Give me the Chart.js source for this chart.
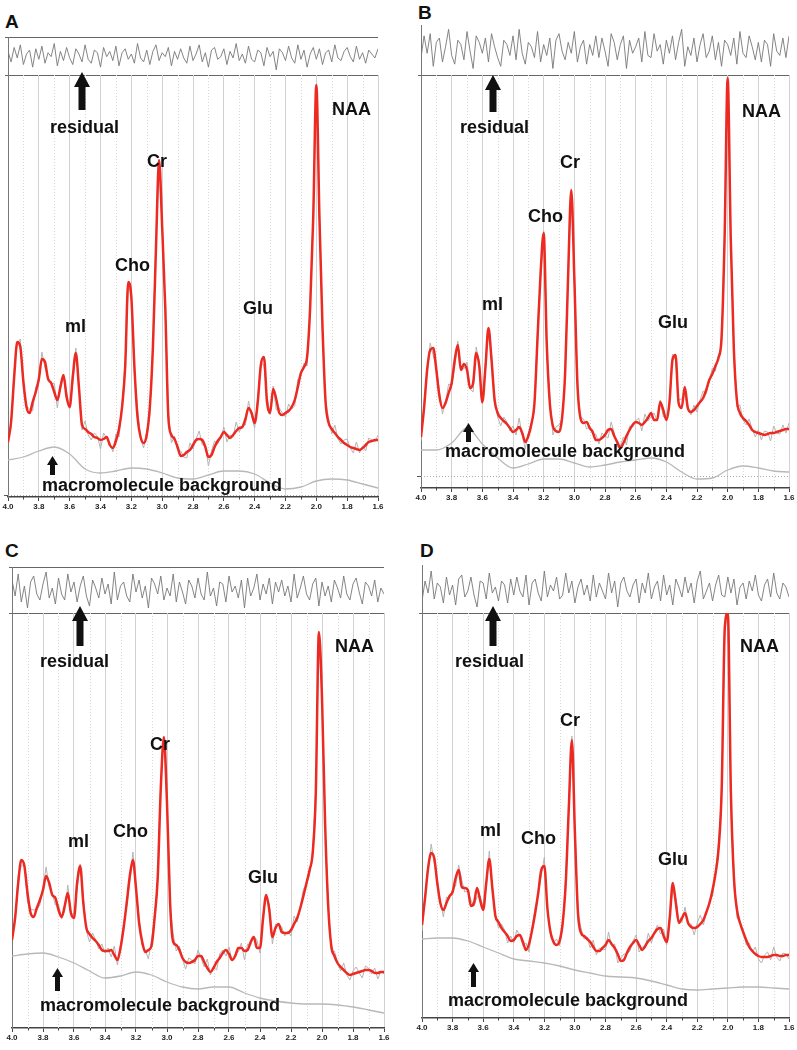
<!DOCTYPE html>
<html><head><meta charset="utf-8">
<script src="https://cdn.jsdelivr.net/npm/chart.js@4.4.1/dist/chart.umd.min.js"></script>
<style>
html,body{margin:0;padding:0;background:#fff;}
#fig{position:relative;width:797px;height:1050px;overflow:hidden;font-family:"Liberation Sans",Arial,sans-serif;}
canvas{position:absolute;}
.lbl{position:absolute;font-weight:bold;font-size:18px;line-height:18px;color:#111;white-space:nowrap;}
.pl{position:absolute;font-weight:bold;font-size:19px;line-height:19px;color:#111;}
.box{position:absolute;box-sizing:border-box;}
svg.arr{position:absolute;overflow:visible;}
</style></head><body><div id="fig"></div>
<script>
// ---- chemical-shift grids (ppm) ----
const ppmGrid = Array.from({length:121}, (_, i) => +(4.0 - i * 0.02).toFixed(2));
const ppmBg = Array.from({length:25}, (_, i) => +(4.0 - i * 0.1).toFixed(1));
const majorTicks = [4.0,3.8,3.6,3.4,3.2,3.0,2.8,2.6,2.4,2.2,2.0,1.8,1.6];
const minorTicks = [3.9,3.7,3.5,3.3,3.1,2.9,2.7,2.5,2.3,2.1,1.9,1.7];

// ---- LCModel fit (red), 4.00 -> 1.60 ppm step 0.02 ----
const fitA = [55,75,120,155,150,115,90,84,95,105,
  118,138,135,118,114,105,97,110,122,100,
  90,120,144,110,72,68,65,63,60,59,
  57,58,60,52,49,56,68,90,130,215,
  200,130,80,60,54,62,90,150,250,337,
  270,190,80,62,58,50,41,42,45,47,
  52,57,58,57,50,40,42,50,56,60,
  65,62,59,62,66,69,70,78,89,84,
  74,95,132,140,95,84,108,98,84,82,
  84,86,90,97,110,124,130,140,190,280,
  412,280,170,95,74,68,64,60,57,54,
  52,50,49,48,47,49,52,55,56,57,
  57];
const fitB = [51,80,118,138,140,118,92,80,85,95,
  105,128,143,118,124,118,100,105,135,122,
  86,120,160,128,88,75,70,67,64,60,
  56,58,61,55,46,52,64,85,150,215,
  255,145,85,62,57,56,70,115,215,298,
  210,105,70,65,66,60,56,48,48,50,
  53,58,59,52,46,40,45,52,58,63,
  66,65,63,66,70,75,68,68,86,78,
  68,85,128,133,85,80,101,80,76,78,
  82,86,90,98,108,114,122,130,150,250,
  410,250,140,88,75,70,67,63,58,56,
  55,54,53,54,55,55,56,57,58,59,
  59];
const fitC = [88,110,145,168,162,135,115,111,120,128,
  138,152,145,133,130,118,111,122,135,115,
  110,145,162,125,100,94,90,87,83,78,
  77,77,78,73,68,80,100,125,152,168,
  140,105,86,76,78,82,110,150,240,291,
  225,125,86,83,78,70,66,65,66,68,
  72,72,66,60,56,60,66,70,75,78,
  74,68,72,80,80,77,78,86,91,80,
  80,110,133,118,91,100,104,96,95,95,
  98,104,110,120,132,145,158,175,235,396,
  330,205,122,82,72,65,61,58,55,53,
  54,55,56,57,58,58,57,55,55,56,
  56];
const fitD = [93,120,150,165,160,135,115,108,115,122,
  126,140,148,131,130,128,112,115,130,118,
  108,135,159,130,102,96,90,86,82,77,
  78,82,83,76,68,74,88,105,125,148,
  152,110,86,76,73,77,95,135,210,278,
  185,105,85,82,79,76,71,67,67,70,
  73,78,74,70,64,57,58,65,71,75,
  78,73,68,72,77,80,85,89,90,82,
  76,100,135,115,95,100,105,95,91,90,
  91,94,98,106,115,128,145,170,230,390,
  405,225,140,108,95,86,78,71,67,64,
  62,61,61,61,62,63,63,62,62,63,
  63];

// ---- residuals (data - fit), same grid ----
const resA = [3,-5,6,-2,8,-7,1,4,-9,5,
  -3,7,-6,2,-1,9,-8,3,-4,6,
  -2,-7,5,1,-5,8,-3,-6,4,2,
  -9,6,-1,3,-4,7,-8,2,5,-3,
  1,-6,9,-2,-5,4,-7,3,8,-4,
  2,-1,6,-8,3,-3,5,-2,-6,7,
  -4,1,8,-5,2,-9,4,6,-3,-1,
  5,-7,3,-2,9,-4,1,-6,7,-3,
  -5,4,2,-8,6,-1,3,-11,5,2,
  -4,7,-2,-6,8,-3,4,-9,1,6,
  -3,5,-7,2,4,-5,8,-2,-4,3,
  6,-1,-5,7,-3,2,-6,4,1,-2,
  5];
const resB = [-4,6,-2,7,-8,3,5,-6,1,9,
  -3,-7,4,2,-5,8,-1,-9,6,3,
  -2,5,-6,7,1,-4,-8,4,2,-3,
  6,-5,9,-2,-7,3,1,-4,8,-6,
  2,-3,5,-9,4,7,-1,-5,3,-2,
  8,-6,1,4,-7,2,-3,6,-4,5,
  -1,-8,7,3,-5,2,6,-9,4,-2,
  1,5,-6,8,-3,-4,7,-1,2,-7,
  4,-2,6,-5,3,9,-8,1,-3,5,
  -6,2,7,-4,-1,6,-5,3,-8,4,
  2,-3,5,-7,8,-2,-4,6,1,-5,
  3,-6,4,2,-8,7,-1,-3,5,-4,
  6];
const resC = [5,-3,8,-6,2,-9,4,7,-2,-5,
  3,9,-4,1,-7,6,-2,-5,8,-1,
  4,-6,2,7,-3,-8,5,1,-4,6,
  -2,3,-7,9,-5,2,4,-3,-6,8,
  -1,5,-4,2,-9,6,3,-2,7,-5,
  1,-3,8,-6,4,-1,-7,5,2,-4,
  6,-2,-5,9,-3,1,-8,4,3,-6,
  7,-1,2,-4,5,-9,6,-3,1,8,
  -5,3,-2,6,-7,4,-1,5,-3,2,
  -6,8,-4,1,7,-2,-5,3,6,-8,
  4,-3,2,-6,5,1,-4,7,-2,-5,
  3,6,-1,-7,4,2,-3,5,-6,1,
  -2];
const resD = [-6,4,-2,9,-5,3,1,-7,6,-3,
  2,-8,5,7,-4,-1,6,-3,-9,4,
  3,-5,8,-2,1,-6,4,2,-7,5,
  -3,6,-1,-4,7,-8,3,5,-2,-6,
  9,-4,2,-1,6,-5,-3,8,-2,4,
  -7,1,5,-3,2,-6,7,-4,3,-1,
  -5,8,-2,4,-9,3,6,-1,-4,2,
  5,-7,3,-2,8,-5,1,4,-6,7,
  -3,2,-8,5,1,-4,6,-2,3,-7,
  4,9,-5,-1,3,-6,2,7,-3,-4,
  6,-2,5,-8,1,3,-5,4,-1,7,
  -3,-6,2,5,-4,8,-2,-5,3,1,
  -4];

// ---- macromolecule background, 4.0 -> 1.6 ppm step 0.1 ----
const bgA = [37,40,46,50,43,28,24,26,29,28,24,19,18,22,26,26,23,14,8,10,16,18,17,13,9];
const bgB = [38,38,45,60,44,30,20,24,29,29,25,21,23,26,28,30,26,16,9,10,18,22,20,17,16];
const bgC = [72,74,75,71,65,57,50,52,56,53,46,41,39,41,41,35,30,27,25,24,24,23,21,18,15];
const bgD = [79,80,80,77,71,65,59,57,55,52,48,45,42,41,40,37,33,29,28,29,30,31,31,30,29];

// ---- baseline (zero) level per panel ----
const zeroLevel = {A: 2, B: 12, C: null, D: null};

// ---- layout (styling only) ----
const panels = [
 {id:'A', fit:fitA, res:resA, bg:bgA, plot:{l:8,r:378,t:75,b:497}, rbox:{t:37,top:true,min:-15,max:14},
  letter:[5,28],
  labels:[['residual',50,133],['NAA',332,115],['Cr',147,167],['Cho',115,271],['ml',65,332],['Glu',243,314],['macromolecule background',42,491]],
  arrows:[[82,72,110,1],[52,456,475,0]]},
 {id:'B', fit:fitB, res:resB, bg:bgB, plot:{l:421,r:789,t:75,b:488}, rbox:{t:25,top:false,min:-12,max:11},
  letter:[418,19],
  labels:[['residual',460,133],['NAA',742,117],['Cr',560,168],['Cho',528,222],['ml',482,310],['Glu',658,328],['macromolecule background',445,457]],
  arrows:[[493,75,112,1],[468,423,442,0]]},
 {id:'C', fit:fitC, res:resC, bg:bgC, plot:{l:12,r:384,t:613,b:1028}, rbox:{t:567,top:true,min:-11.5,max:11.5},
  letter:[5,557],
  labels:[['residual',40,667],['NAA',335,652],['Cr',150,750],['Cho',113,837],['ml',68,847],['Glu',248,883],['macromolecule background',40,1011]],
  arrows:[[80,606,646,1],[57,968,991,0]]},
 {id:'D', fit:fitD, res:resD, bg:bgD, plot:{l:422,r:789,t:613,b:1018}, rbox:{t:565,top:false,min:-12,max:12},
  letter:[420,557],
  labels:[['residual',455,667],['NAA',740,652],['Cr',560,726],['Cho',521,844],['ml',480,836],['Glu',658,865],['macromolecule background',448,1006]],
  arrows:[[493,606,646,1],[473,963,987,0]]}
];

Chart.defaults.font.family = '"Liberation Sans", Arial, sans-serif';
Chart.defaults.animation = false;

const minorGrid = {
  id: 'minorGrid',
  beforeDatasetsDraw(chart, args, opts) {
    const {ctx, chartArea: a, scales: {x, y}} = chart;
    ctx.save();
    ctx.lineWidth = 1;
    ctx.strokeStyle = '#d8d8d8';
    ctx.setLineDash([1, 2]);
    minorTicks.forEach(v => {
      const px = Math.round(x.getPixelForValue(v)) + 0.5;
      ctx.beginPath(); ctx.moveTo(px, a.top); ctx.lineTo(px, a.bottom); ctx.stroke();
    });
    if (opts.zero != null) {
      const py = Math.round(y.getPixelForValue(opts.zero)) + 0.5;
      ctx.strokeStyle = '#aaa';
      ctx.beginPath(); ctx.moveTo(a.left, py); ctx.lineTo(a.right, py); ctx.stroke();
      ctx.setLineDash([]);
      ctx.strokeStyle = '#555';
      ctx.beginPath(); ctx.moveTo(a.left - 4, py); ctx.lineTo(a.left, py); ctx.stroke();
    }
    ctx.setLineDash([]);
    ctx.strokeStyle = '#444';
    minorTicks.forEach(v => {
      const px = Math.round(x.getPixelForValue(v)) + 0.5;
      ctx.beginPath(); ctx.moveTo(px, a.bottom); ctx.lineTo(px, a.bottom + 2.5); ctx.stroke();
    });
    ctx.restore();
  }
};

const fig = document.getElementById('fig');

function addCanvas(l, t, w, h) {
  const c = document.createElement('canvas');
  c.width = w; c.height = h;
  c.style.left = l + 'px'; c.style.top = t + 'px';
  c.style.width = w + 'px'; c.style.height = h + 'px';
  fig.appendChild(c);
  return c;
}
function addText(cls, txt, x, baseline, off) {
  const d = document.createElement('div');
  d.className = cls; d.textContent = txt;
  d.style.left = x + 'px'; d.style.top = (baseline - off) + 'px';
  fig.appendChild(d);
}
function addArrow(cx, top, bottom, big) {
  const hw = big ? 8 : 5.5, hh = big ? 15 : 9, sw = big ? 3.5 : 2.5;
  const h = bottom - top;
  const ns = 'http://www.w3.org/2000/svg';
  const s = document.createElementNS(ns, 'svg');
  s.setAttribute('class', 'arr');
  s.setAttribute('width', 2 * hw); s.setAttribute('height', h);
  s.style.left = (cx - hw) + 'px'; s.style.top = top + 'px';
  const p = document.createElementNS(ns, 'polygon');
  p.setAttribute('points', `${hw},0 ${2*hw},${hh} ${hw+sw},${hh} ${hw+sw},${h} ${hw-sw},${h} ${hw-sw},${hh} 0,${hh}`);
  p.setAttribute('fill', '#111');
  s.appendChild(p);
  fig.appendChild(s);
}

panels.forEach(P => {
  const {l, r, t, b} = P.plot;
  const W = r - l, H = b - t;

  // residual box lines
  const bx = document.createElement('div');
  bx.className = 'box';
  bx.style.left = (l - 3) + 'px'; bx.style.top = P.rbox.t + 'px';
  bx.style.width = (W + 3) + 'px'; bx.style.height = (t - P.rbox.t + 1) + 'px';
  bx.style.borderBottom = '1.5px solid #666';
  if (P.rbox.top) bx.style.borderTop = '1.5px solid #666';
  fig.appendChild(bx);
  const ax = document.createElement('div');
  ax.className = 'box';
  ax.style.left = l + 'px'; ax.style.top = P.rbox.t + 'px';
  ax.style.width = '1px'; ax.style.height = (t - P.rbox.t) + 'px';
  ax.style.background = '#777';
  fig.appendChild(ax);

  // residual chart
  const rc = addCanvas(l, P.rbox.t, W, t - P.rbox.t);
  new Chart(rc, {
    type: 'line',
    data: {datasets: [{
      data: ppmGrid.map((x, i) => ({x, y: P.res[i]})),
      borderColor: '#777', borderWidth: 0.9, pointRadius: 0, tension: 0
    }]},
    options: {
      responsive: false, animation: false,
      layout: {padding: 0},
      plugins: {legend: {display: false}, tooltip: {enabled: false}},
      scales: {
        x: {type: 'linear', reverse: true, min: 1.6, max: 4.0, display: false},
        y: {min: P.rbox.min, max: P.rbox.max, display: false}
      }
    }
  });

  // main spectrum chart
  const mc = addCanvas(l - 10, t, W + 20, H + 20);
  new Chart(mc, {
    type: 'line',
    data: {datasets: [
      {label: 'data', data: ppmGrid.map((x, i) => ({x, y: P.fit[i] + P.res[i]})),
       borderColor: '#b4b4b4', borderWidth: 1, pointRadius: 0, tension: 0, order: 2},
      {label: 'macromolecule background', data: ppmBg.map((x, i) => ({x, y: P.bg[i]})),
       borderColor: '#b8b8b8', borderWidth: 1.3, pointRadius: 0, cubicInterpolationMode: 'monotone', order: 1},
      {label: 'fit', data: ppmGrid.map((x, i) => ({x, y: P.fit[i]})),
       borderColor: '#ec2a22', borderWidth: 2.5, pointRadius: 0, cubicInterpolationMode: 'monotone', order: 0}
    ]},
    options: {
      responsive: false, animation: false,
      layout: {padding: {left: 0, right: 10, top: 0, bottom: 0}},
      plugins: {legend: {display: false}, tooltip: {enabled: false}, minorGrid: {zero: zeroLevel[P.id]}},
      scales: {
        x: {
          type: 'linear', reverse: true, min: 1.6, max: 4.0,
          afterBuildTicks: s => { s.ticks = majorTicks.map(v => ({value: v})); },
          afterFit: s => { s.height = 20; },
          ticks: {callback: v => Number(v).toFixed(1), font: {size: 8, weight: 'bold'}, color: '#222',
                  maxRotation: 0, autoSkip: false, padding: 1},
          grid: {color: '#d2d2d2', lineWidth: 1, tickLength: 4, tickColor: '#444'},
          border: {color: '#444', width: 1.5}
        },
        y: {
          min: 0, max: H,
          afterFit: s => { s.width = 10; },
          ticks: {display: false},
          grid: {display: false},
          border: {color: '#777', width: 1}
        }
      }
    },
    plugins: [minorGrid]
  });

  // text and arrows
  addText('pl', P.id, P.letter[0], P.letter[1], 16);
  P.labels.forEach(([txt, x, bl]) => addText('lbl', txt, x, bl, 15));
  P.arrows.forEach(([cx, tp, bt, big]) => addArrow(cx, tp, bt, big));
});
</script></body></html>
